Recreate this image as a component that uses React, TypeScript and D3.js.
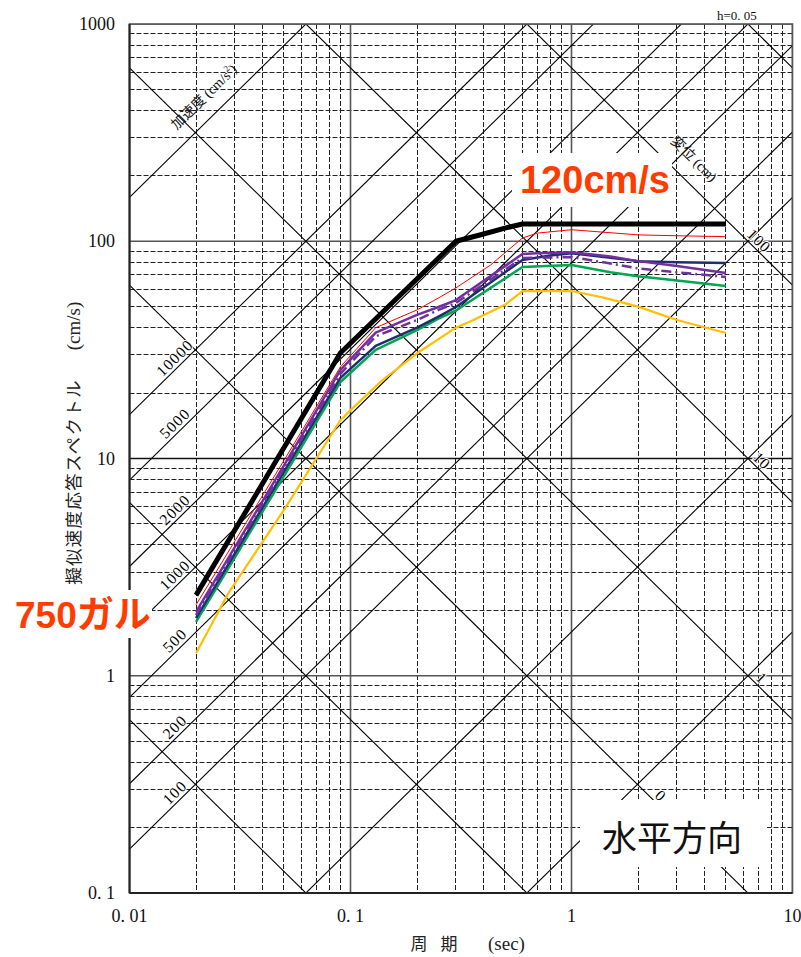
import React from 'react';
import * as d3 from 'd3';

// ---- data ----
const periodTicks = [0.01, 0.1, 1, 10];
const periodTickLabels = ['0. 01', '0. 1', '1', '10'];
const svTicks = [0.1, 1, 10, 100, 1000];
const svTickLabels = ['0. 1', '1', '10', '100', '1000'];

const accelLines = [1, 10, 100, 200, 500, 1000, 2000, 5000, 10000, 100000];
const accelLabels = [100, 200, 500, 1000, 2000, 5000, 10000];
const dispLines = [0.001, 0.01, 0.1, 1, 10, 100, 1000];
const dispLabels = [100, 10, 1, 0.1];
const dispLabelText = ['100', '10', '1', '0.1'];

const designT = [0.02, 0.09, 0.3, 0.4, 0.5, 0.6, 5];
const designSv = [2.35, 30.6, 100, 108, 115, 120, 120];

const redT = [0.02, 0.05, 0.09, 0.13, 0.2, 0.25, 0.3, 0.43, 0.6, 0.7, 1.0, 2.0, 3.0, 5.0];
const redSv = [2.12, 9.8, 26.4, 40, 48.3, 54.8, 61, 77.7, 103.5, 109, 113, 107, 106, 105];

const purpleT = [0.02, 0.05, 0.09, 0.13, 0.2, 0.25, 0.3, 0.6, 0.7, 1.0, 1.5, 2, 3, 5];
const purpleSv = [1.97, 9.3, 25.5, 38, 45.8, 49.8, 53.6, 87.4, 88, 89, 85, 81, 77, 71.4];

const dashT = [0.02, 0.05, 0.09, 0.13, 0.2, 0.25, 0.3, 0.6, 1.0, 1.5, 2, 3, 5];
const dashSv = [1.9, 9.0, 24.5, 36.5, 43.4, 48.3, 52, 83.8, 84.6, 79, 75, 72, 68.5];

const navyT = [0.02, 0.05, 0.09, 0.13, 0.2, 0.25, 0.3, 0.6, 0.8, 1.0, 1.5, 2, 3, 5];
const navySv = [1.84, 8.7, 23.5, 33, 40, 45, 49.8, 82, 86, 88, 84, 81, 80, 79.4];

const greenT = [0.02, 0.05, 0.09, 0.13, 0.2, 0.25, 0.3, 0.6, 1.0, 1.5, 2, 3, 5];
const greenSv = [1.77, 8.3, 22.5, 31.6, 39, 44, 48, 76.1, 77.7, 72, 69, 66, 62.2];

const yellowT = [0.02, 0.028, 0.05, 0.09, 0.1, 0.14, 0.2, 0.3, 0.36, 0.5, 0.6, 1.0, 1.4, 2, 3, 5];
const yellowSv = [1.27, 2.4, 5.8, 15, 16.7, 23, 30.5, 40, 43.4, 51, 59, 59, 55, 50, 43.4, 37.8];

// ---- layout ----
const W = 801, H = 957;
const L = 129.5, R = 792.5, T0 = 24, B = 893;
const x = d3.scaleLog().domain([0.01, 10]).range([L, R]);
const y = d3.scaleLog().domain([0.1, 1000]).range([B, T0]);
const TWO_PI = 2 * Math.PI;
const snap = (v: number) => Math.round(v - 0.5) + 0.5;

const serif = "'Liberation Serif', 'DejaVu Serif', 'Noto Sans CJK JP', serif";
const jp = "'Noto Sans CJK JP', sans-serif";

const series = [
  { t: yellowT, v: yellowSv, color: '#FFC000', w: 2.2, dash: undefined },
  { t: greenT, v: greenSv, color: '#00A651', w: 2.5, dash: undefined },
  { t: navyT, v: navySv, color: '#1F2F6E', w: 2.5, dash: undefined },
  { t: dashT, v: dashSv, color: '#7030A0', w: 2.5, dash: '10,4,2,4' },
  { t: purpleT, v: purpleSv, color: '#7030A0', w: 2.5, dash: undefined },
  { t: redT, v: redSv, color: '#FF0000', w: 1, dash: undefined },
  { t: designT, v: designSv, color: '#000000', w: 5, dash: undefined },
];

const lineGen = d3.line<[number, number]>().x(d => x(d[0])).y(d => y(d[1]));

function minorValues(lo: number, hi: number): number[] {
  const out: number[] = [];
  for (let dec = lo; dec < hi; dec *= 10) {
    for (let k = 2; k <= 9; k++) out.push(+(dec * k).toPrecision(6));
  }
  return out;
}

const angle = Math.atan((y(1) - y(10)) / (x(1) - x(0.1))) * 180 / Math.PI; // ~44.5

export default function App() {
  const minorX = minorValues(0.01, 10);
  const minorY = minorValues(0.1, 1000);
  const Tpix = (px: number) => x.invert(px);

  return (
    <svg width={W} height={H} style={{ position: 'absolute', left: 0, top: 0, background: '#fff' }}>
      <defs>
        <clipPath id="plot">
          <rect x={L} y={T0} width={R - L} height={B - T0} />
        </clipPath>
      </defs>
      <rect x={0} y={0} width={W} height={H} fill="#fff" />
      <g clipPath="url(#plot)">
        {/* minor grid */}
        {minorX.map((t, i) => (
          <line key={'mx' + i} x1={snap(x(t))} x2={snap(x(t))} y1={T0} y2={B} stroke="#222" strokeWidth={1} strokeDasharray="5,2" />
        ))}
        {minorY.map((v, i) => (
          <line key={'my' + i} x1={L} x2={R} y1={snap(y(v))} y2={snap(y(v))} stroke="#222" strokeWidth={1} strokeDasharray="5,2" />
        ))}
        {/* major grid */}
        {periodTicks.map((t, i) => (
          <line key={'Mx' + i} x1={x(t)} x2={x(t)} y1={T0} y2={B} stroke="#555" strokeWidth={1.6} />
        ))}
        {svTicks.map((v, i) => (
          <line key={'My' + i} x1={L} x2={R} y1={y(v)} y2={y(v)} stroke={v === 10 ? '#111' : '#555'} strokeWidth={1.6} />
        ))}
        {/* acceleration lines (/) */}
        {accelLines.map((a, i) => {
          const pts: [number, number][] = [[0.01, a * 0.01 / TWO_PI], [10, a * 10 / TWO_PI]];
          return <path key={'a' + i} d={lineGen(pts) || ''} stroke="#000" strokeWidth={1.1} fill="none" />;
        })}
        {/* displacement lines (\) */}
        {dispLines.map((dd, i) => {
          const pts: [number, number][] = [[0.01, TWO_PI * dd / 0.01], [10, TWO_PI * dd / 10]];
          return <path key={'d' + i} d={lineGen(pts) || ''} stroke="#000" strokeWidth={1.1} fill="none" />;
        })}
      </g>

      {/* acceleration labels */}
      {accelLabels.map((a, i) => {
        const px = 181;
        const t = Tpix(px);
        const py = y(a * t / TWO_PI);
        return (
          <text key={'al' + i} x={px} y={py} dy={-3.5} textAnchor="middle" fontFamily={serif} fontSize={15.5}
            letterSpacing={1.2} fill="#000" stroke="#fff" strokeWidth={2} paintOrder="stroke"
            transform={`rotate(${-angle},${px},${py})`}>{a}</text>
        );
      })}
      {/* displacement labels */}
      {dispLabels.map((dd, i) => {
        const px = [744, 750, 753, 652][i];
        const t = Tpix(px);
        const py = y(TWO_PI * dd / t);
        return (
          <text key={'dl' + i} x={px} y={py} dy={-3} textAnchor="start" fontFamily={serif} fontSize={15.5}
            letterSpacing={1} fill="#000" stroke="#fff" strokeWidth={2} paintOrder="stroke"
            transform={`rotate(${angle},${px},${py})`}>{dispLabelText[i]}</text>
        );
      })}
      <text x={205} y={98} textAnchor="middle" dominantBaseline="middle" fontFamily={serif} fontSize={14}
        fill="#111" transform={`rotate(${-angle},205,98)`}>
        加速度 (cm/s<tspan fontSize={9} dy={-5}>2</tspan><tspan dy={5}>)</tspan>
      </text>
      <text x={693} y={160} textAnchor="middle" dominantBaseline="middle" fontFamily={serif} fontSize={14}
        fill="#111" transform={`rotate(${angle},693,160)`}>変位 (cm)</text>

      {/* curves */}
      <g clipPath="url(#plot)">
        {series.map((s, i) => {
          const pts = s.t.map((t, j) => [t, s.v[j]] as [number, number]);
          return (
            <path key={'s' + i} d={lineGen(pts) || ''} fill="none" stroke={s.color} strokeWidth={s.w}
              strokeDasharray={s.dash} strokeLinejoin="round" strokeLinecap="butt" />
          );
        })}
      </g>

      {/* border */}
      <rect x={L} y={T0} width={R - L} height={B - T0} fill="none" stroke="#555" strokeWidth={1.6} />
      <line x1={L} x2={L} y1={T0} y2={B} stroke="#222" strokeWidth={2} />
      <line x1={L} x2={R} y1={B} y2={B} stroke="#222" strokeWidth={2} />

      {/* annotation boxes */}
      <rect x={512} y={153} width={160} height={54} fill="#fff" />
      <text x={595} y={193} textAnchor="middle" fontFamily="'Liberation Sans', Arial, sans-serif" fontWeight="bold"
        fontSize={38} fill="#FF3C00">120cm/s</text>
      <rect x={0} y={590} width={152} height={48} fill="#fff" />
      <text x={15} y={628} textAnchor="start" fontFamily="'Liberation Sans', 'Noto Sans CJK JP', sans-serif" fontWeight="bold"
        fontSize={37} fill="#FF3C00">750ガル</text>
      <rect x={580} y={800} width={187} height={67} fill="#fff" />
      <text x={672} y={851} textAnchor="middle" fontFamily={jp} fontSize={35} fill="#111">水平方向</text>

      {/* tick labels */}
      {svTicks.map((v, i) => (
        <text key={'yl' + i} x={115} y={y(v)} dy={6} textAnchor="end" fontFamily={serif} fontSize={18} fill="#111">
          {svTickLabels[i]}
        </text>
      ))}
      {periodTicks.map((t, i) => (
        <text key={'xl' + i} x={x(t)} y={922} textAnchor="middle" fontFamily={serif} fontSize={18} fill="#111">
          {periodTickLabels[i]}
        </text>
      ))}
      <text x={717} y={20} fontFamily={serif} fontSize={13} fill="#111">h=0. 05</text>

      {/* axis titles */}
      <text x={419} y={950} textAnchor="middle" fontFamily={jp} fontSize={17} fill="#222">周</text>
      <text x={449} y={950} textAnchor="middle" fontFamily={jp} fontSize={17} fill="#222">期</text>
      <text x={488} y={950} textAnchor="start" fontFamily={serif} fontSize={19} fill="#222">(sec)</text>
      <text x={80} y={482} textAnchor="middle" fontFamily={jp} fontSize={17.5} letterSpacing={1.3} fill="#222"
        transform="rotate(-90,80,482)">擬似速度応答スペクトル</text>
      <text x={80} y={326} textAnchor="middle" fontFamily={serif} fontSize={19} fill="#222"
        transform="rotate(-90,80,326)">(cm/s)</text>
    </svg>
  );
}
